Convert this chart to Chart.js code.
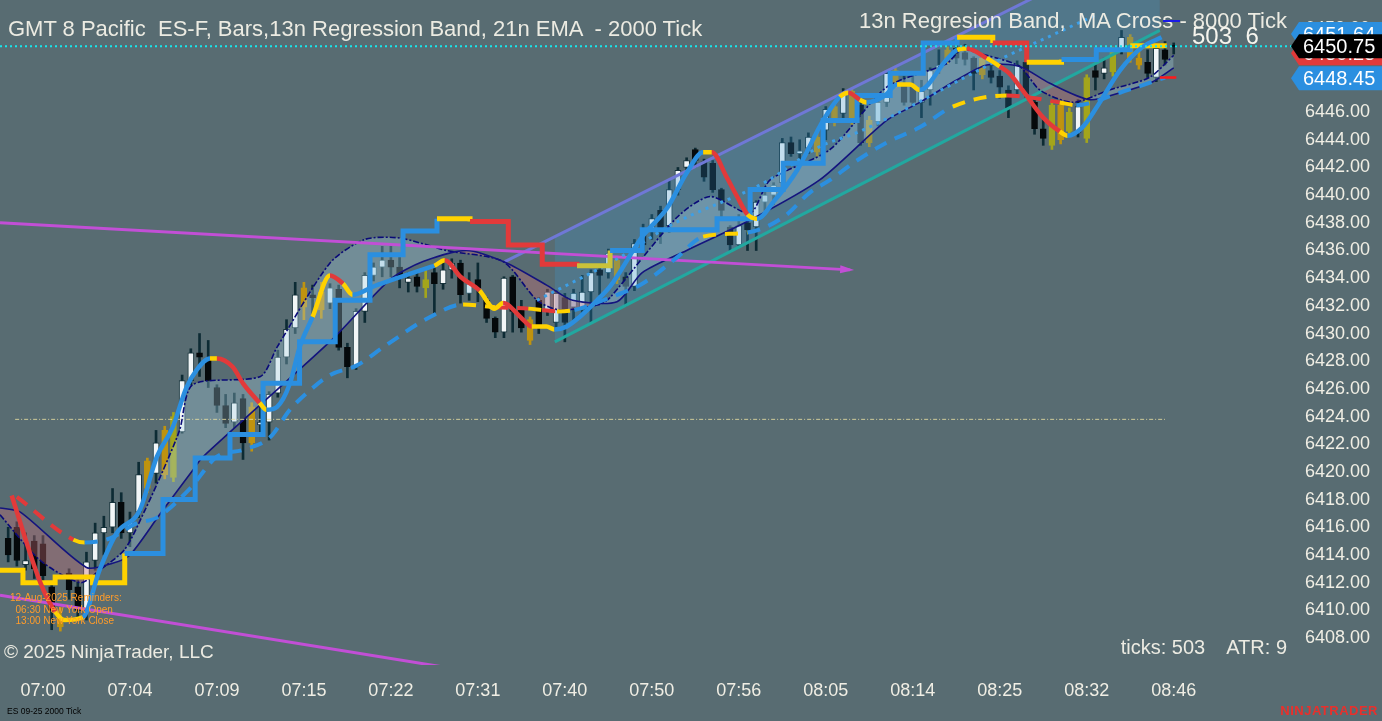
<!DOCTYPE html>
<html>
<head>
<meta charset="UTF-8">
<title>ES-F 2000 Tick</title>
<script src="https://cdn.jsdelivr.net/npm/chart.js"></script>
<style>
	body { margin: 0; background: #586c72; overflow: hidden; }
	#wrap { position: relative; width: 1382px; height: 721px; font-family: "Liberation Sans", Arial, sans-serif; color: #ecebe2; }
	#chart { position: absolute; left: 0; top: 0; }
	.t { position: absolute; white-space: pre; pointer-events: none; }
</style>
</head>
<body>
<div id="wrap">
	<canvas id="chart" width="1382" height="721"></canvas>

	<!-- 헤더 / 주석 텍스트 -->
	<div class="t" style="left:8px;top:16px;font-size:22px;">GMT 8 Pacific  ES-F, Bars,13n Regression Band, 21n EMA  - 2000 Tick</div>
	<div class="t" style="right:95px;top:8px;font-size:22px;">13n Regresion Band,  MA Cross - 8000 Tick</div>
	<div class="t" style="left:1163px;top:20px;width:17px;height:2px;background:#1a1ae6;"></div>
	<div class="t" style="left:1192px;top:22px;font-size:24px;color:#f6f5ee;">503  6</div>
	<div class="t" style="left:10px;top:592px;font-size:10px;line-height:11.5px;color:#ff9c2a;">12-Aug-2025 Reminders:
  06:30 New York Open
  13:00 New York Close</div>
	<div class="t" style="left:4px;top:641px;font-size:19px;">© 2025 NinjaTrader, LLC</div>
	<div class="t" style="right:95px;top:636px;font-size:20px;">ticks: 503    ATR: 9</div>
	<div class="t" style="left:7px;top:706px;font-size:8.5px;color:#000;">ES 09-25 2000 Tick</div>
	<div class="t" style="right:4px;top:703px;font-size:13px;font-weight:bold;color:#e8302c;letter-spacing:0.5px;">NINJATRADER</div>
</div>

<script>
	// ---- 캔들 데이터 (bar index 0..134) ----
	const opens = [6415.2,6416.0,6413.3,6415.0,6414.8,6411.7,6409.5,6412.7,6411.7,6410.0,
		6413.6,6415.6,6416.0,6417.8,6415.6,6417.1,6418.8,6419.9,6419.8,6419.6,
		6422.9,6426.6,6428.6,6428.1,6426.1,6424.8,6423.6,6425.3,6422.1,6423.4,
		6423.6,6425.7,6428.3,6430.4,6431.9,6432.8,6431.7,6432.2,6433.2,6429.0,
		6427.6,6431.6,6434.2,6434.8,6435.3,6434.8,6433.7,6434.1,6433.3,6434.4,
		6433.6,6434.6,6435.1,6432.9,6433.9,6432.4,6431.1,6430.1,6434.1,6431.7,
		6431.0,6432.4,6431.6,6430.8,6432.6,6431.9,6431.7,6433.0,6434.6,6434.4,
		6433.9,6434.1,6433.4,6437.5,6437.5,6438.9,6437.8,6440.4,6442.0,6443.3,
		6442.4,6442.3,6440.4,6437.7,6436.4,6438.0,6437.7,6439.5,6440.0,6440.9,
		6443.8,6443.0,6443.4,6443.1,6444.7,6445.3,6445.9,6445.4,6446.5,6443.8,
		6445.3,6446.7,6448.1,6448.0,6447.8,6446.7,6447.6,6449.2,6449.8,6450.6,
		6450.3,6449.9,6448.7,6449.0,6448.6,6447.6,6447.6,6449.6,6446.7,6444.8,
		6443.6,6446.5,6444.6,6444.5,6444.1,6448.5,6449.2,6448.9,6450.5,6451.4,
		6449.9,6449.6,6448.5,6450.5,6450.8];
	const highs = [6416.0,6416.4,6415.6,6415.4,6415.4,6412.0,6410.2,6413.0,6412.2,6414.2,
		6416.3,6416.8,6418.8,6418.5,6417.1,6420.7,6421.0,6423.0,6423.3,6424.3,
		6427.0,6428.9,6430.0,6429.5,6426.3,6425.6,6425.7,6425.6,6425.0,6425.6,
		6425.8,6428.8,6431.0,6433.7,6433.7,6433.5,6433.7,6433.6,6433.5,6429.3,
		6431.8,6434.4,6435.1,6436.3,6436.3,6435.5,6434.4,6434.5,6434.6,6434.8,
		6435.3,6435.4,6435.3,6434.4,6435.1,6432.6,6431.2,6434.1,6434.2,6432.4,
		6431.2,6432.6,6433.2,6433.1,6432.9,6433.2,6434.2,6434.6,6434.7,6436.1,
		6435.6,6434.4,6436.8,6437.9,6438.6,6439.2,6441.1,6442.0,6442.7,6443.4,
		6442.6,6442.5,6440.5,6437.8,6438.6,6438.2,6439.6,6440.3,6440.9,6444.1,
		6444.2,6444.0,6444.5,6444.5,6446.4,6446.6,6447.7,6447.7,6446.7,6445.7,
		6447.0,6448.9,6449.2,6448.6,6448.9,6448.3,6449.2,6450.5,6450.7,6450.9,
		6450.9,6450.0,6450.1,6449.4,6449.0,6447.9,6449.7,6449.8,6447.0,6445.5,
		6446.8,6446.8,6446.3,6446.9,6448.7,6449.4,6449.9,6450.7,6451.9,6451.6,
		6450.6,6450.5,6450.8,6451.1,6451.0];
	const lows = [6413.5,6413.2,6412.9,6412.3,6412.0,6408.6,6408.5,6410.8,6409.5,6409.3,
		6412.9,6414.0,6415.6,6415.2,6414.6,6416.7,6418.5,6419.2,6419.5,6419.3,
		6422.8,6426.3,6426.9,6426.1,6424.3,6423.2,6423.2,6420.9,6421.5,6422.8,
		6422.3,6425.4,6427.8,6430.0,6431.0,6431.1,6431.1,6431.8,6428.8,6426.8,
		6427.4,6430.8,6433.8,6434.1,6434.1,6433.3,6433.0,6433.0,6432.6,6431.5,
		6433.2,6434.0,6432.2,6432.4,6432.3,6430.8,6429.7,6429.7,6430.1,6430.1,
		6429.2,6430.0,6431.3,6430.3,6429.4,6431.0,6431.5,6430.8,6432.8,6434.0,
		6433.6,6432.0,6433.1,6436.0,6436.8,6436.5,6437.3,6440.0,6441.6,6442.0,
		6441.0,6440.2,6438.4,6435.9,6436.3,6436.0,6436.0,6438.9,6439.3,6440.6,
		6442.8,6442.2,6443.0,6442.8,6444.0,6445.0,6445.6,6445.1,6443.6,6443.5,
		6445.0,6446.4,6447.8,6446.5,6446.4,6445.6,6446.5,6448.8,6449.5,6449.5,
		6449.4,6447.6,6448.4,6448.1,6447.0,6445.6,6447.3,6447.0,6444.4,6443.6,
		6443.3,6443.7,6444.3,6444.2,6443.8,6447.6,6448.4,6448.6,6450.2,6449.6,
		6449.1,6448.5,6448.2,6449.4,6450.2];
	const closes = [6414.0,6413.6,6413.6,6413.0,6412.5,6410.0,6408.8,6411.5,6410.0,6413.5,
		6415.6,6416.0,6417.8,6415.6,6416.4,6419.8,6420.8,6422.1,6423.0,6424.0,
		6426.6,6428.6,6428.3,6426.6,6424.8,6423.5,6425.0,6422.1,6424.7,6423.6,
		6425.6,6428.3,6430.3,6432.8,6433.3,6432.6,6433.0,6433.3,6429.0,6427.6,
		6431.6,6434.2,6434.8,6435.3,6434.8,6434.1,6434.0,6433.4,6433.9,6433.6,
		6434.6,6435.1,6432.8,6433.6,6433.3,6431.1,6430.1,6434.0,6431.6,6430.4,
		6429.5,6430.5,6433.0,6432.9,6430.8,6432.9,6433.0,6434.4,6434.2,6435.8,
		6435.3,6433.4,6436.5,6436.4,6438.3,6437.5,6440.4,6441.8,6442.5,6442.5,
		6441.3,6440.4,6438.9,6436.4,6437.8,6437.5,6439.5,6440.0,6440.7,6443.8,
		6443.0,6443.2,6444.2,6444.2,6446.2,6446.4,6447.4,6447.5,6443.8,6445.4,
		6446.7,6448.8,6449.0,6446.7,6446.7,6447.5,6449.0,6449.4,6450.5,6449.9,
		6449.8,6448.8,6449.9,6448.5,6447.8,6446.3,6449.4,6447.3,6444.8,6444.1,
		6446.5,6444.0,6446.0,6446.4,6448.5,6449.0,6448.8,6450.5,6451.4,6449.9,
		6449.4,6448.8,6450.6,6449.8,6450.75];
	// 캔들 종류: u=상승(흰색) d=하락(검정) g=금색 o=올리브 l=하늘색
	const kinds = ('ddudddgddu' + 'uuuduugugo' + 'uuddddudgu' + 'uuuugdgldd' + 'uullddudod' +
		'uudldddudd' + 'gdludluudl' + 'gdududuuud' + 'ddddudullu' + 'dlugugugdg' +
		'lugdduulgd' + 'ddgddduddd' + 'ogouoduoug' + 'gdudd').split('');

	// ---- 축 라벨 ----
	const tickIdx = [4, 14, 24, 34, 44, 54, 64, 74, 84, 94, 104, 114, 124, 134];
	const timeLabels = ['07:00','07:04','07:09','07:15','07:22','07:31','07:40','07:50','07:56','08:05','08:14','08:25','08:32','08:46'];
	const yTicks = [6408,6410,6412,6414,6416,6418,6420,6422,6424,6426,6428,6430,6432,6434,6436,6438,6440,6442,6444,6446,6448,6450,6452];

	// ---- 지표 라인 [bar index, price, 상태] ----
	const fastMa = [[0.4,6418.3,'R'],[3.7,6412.0,'R'],[5.4,6409.9,'Y'],[6.5,6409.3,'Y'],[8.6,6409.5,'B'],[10.5,6412.9,'B'],
		[12.5,6415.6,'B'],[15.1,6417.2,'B'],[17.1,6421.1,'B'],[18.9,6423.2,'B'],[20.5,6426.1,'B'],[21.7,6427.4,'B'],
		[23.2,6428.2,'Y'],[24.0,6428.2,'R'],[25.8,6427.6,'R'],[27.0,6426.4,'R'],[28.9,6425.0,'Y'],[29.7,6424.5,'B'],
		[30.9,6424.7,'B'],[32.4,6426.4,'B'],[33.5,6429.0,'B'],[35.0,6431.2,'Y'],[37.0,6434.2,'R'],[38.5,6433.6,'Y'],
		[39.6,6432.8,'B'],[42.0,6433.4,'B'],[44.7,6434.0,'B'],[48.5,6434.8,'B'],[49.0,6434.9,'Y'],[50.2,6435.3,'R'],
		[52.0,6434.1,'R'],[54.2,6433.1,'Y'],[55.9,6431.8,'Y'],[56.9,6432.2,'R'],[59.2,6431.0,'R'],[60.2,6430.5,'Y'],
		[61.9,6430.5,'Y'],[62.8,6430.3,'B'],[64.2,6430.5,'B'],[65.7,6431.2,'B'],[67.7,6432.4,'B'],[69.2,6433.4,'B'],
		[72.9,6437.0,'B'],[75.8,6439.1,'B'],[78.0,6441.6,'B'],[79.9,6443.1,'Y'],[80.9,6443.1,'R'],[82.6,6441.3,'R'],
		[83.8,6439.9,'R'],[85.0,6438.6,'Y'],[86.1,6438.3,'B'],[88.1,6439.6,'B'],[90.7,6441.8,'B'],[93.7,6445.4,'B'],
		[95.6,6447.1,'Y'],[96.6,6447.4,'R'],[97.9,6446.9,'Y'],[98.7,6446.7,'B'],[100.8,6447.2,'B'],[102.2,6448.0,'Y'],
		[103.7,6448.0,'Y'],[104.8,6447.6,'B'],[107.9,6449.8,'B'],[109.1,6450.5,'Y'],[110.2,6450.6,'R'],[112.5,6449.9,'Y'],
		[114.0,6449.3,'R'],[115.1,6448.8,'R'],[116.6,6447.6,'R'],[119.0,6445.6,'R'],[120.9,6444.6,'Y'],[121.8,6444.3,'B'],
		[123.5,6444.9,'B'],[125.2,6446.4,'B'],[127.8,6449.0,'B'],[130.4,6450.7,'B'],[132.6,6451.4,'B']];
	const slowMa = [[1.0,6418.2,'R'],[7.5,6415.1,'Y'],[8.8,6414.9,'B'],[11.7,6415.2,'B'],[14.8,6416.3,'B'],[17.1,6416.7,'B'],
		[20.9,6418.8,'B'],[24.0,6421.1,'B'],[27.0,6421.6,'B'],[30.1,6422.5,'B'],[32.4,6424.5,'B'],[34.7,6425.9,'B'],
		[37.0,6427.0,'B'],[40.1,6427.7,'B'],[43.1,6429.0,'B'],[48.5,6431.2,'B'],[52.3,6432.1,'Y'],[56.0,6431.9,'R'],
		[59.8,6431.8,'Y'],[61.4,6431.7,'R'],[63.1,6431.6,'Y'],[65.1,6431.7,'B'],[69.2,6432.6,'B'],[72.9,6433.6,'B'],
		[76.9,6435.5,'B'],[79.9,6437.0,'Y'],[85.0,6437.3,'B'],[89.1,6438.4,'B'],[92.2,6440.2,'B'],[94.5,6441.1,'B'],
		[97.1,6442.3,'B'],[101.0,6443.8,'B'],[104.8,6444.9,'B'],[108.6,6446.4,'Y'],[114.8,6447.2,'R'],[120.9,6446.7,'Y'],
		[122.8,6446.5,'B'],[127.8,6447.4,'B'],[133.0,6448.5,'B']];
	const trailStop = [[-0.94,6412.9,'Y'],[1.7,6412.0,'Y'],[5.4,6412.4,'Y'],[9.7,6412.0,'Y'],[13.4,6414.1,'B'],[17.8,6418.0,'B'],
		[21.5,6421.0,'B'],[25.5,6422.7,'B'],[29.3,6426.4,'B'],[33.5,6429.4,'B'],[37.6,6432.4,'B'],[41.6,6435.7,'B'],
		[45.4,6437.4,'B'],[49.3,6438.3,'Y'],[53.1,6438.1,'R'],[57.5,6436.4,'R'],[61.4,6435.0,'R'],[65.4,6434.9,'O'],
		[69.2,6436.0,'B'],[72.9,6437.5,'B'],[81.5,6438.3,'B'],[85.3,6440.4,'B'],[89.1,6442.3,'B'],[93.7,6445.4,'B'],
		[97.6,6447.2,'B'],[101.4,6448.8,'B'],[105.2,6451.0,'B'],[109.1,6451.4,'Y'],[113.2,6451.0,'R'],[117.1,6449.6,'Y'],
		[121.1,6449.8,'B'],[125.1,6450.5,'B'],[129.0,6450.8,'Y'],[133.2,6450.8,'Y']];
	const bandUpper = [[-0.94,6416.9],[3.7,6413.6],[8.3,6412.0],[10.5,6412.9],[13.4,6414.4],[15.7,6417.2],[17.8,6420.1],
		[19.7,6423.0],[21.2,6426.3],[29.0,6426.9],[30.9,6429.0],[37.0,6435.1],[41.0,6436.8],[45.0,6436.9],[50.4,6436.0],
		[56.9,6435.2],[60.8,6432.4],[63.4,6431.7],[68.0,6432.1],[69.2,6432.6],[76.9,6438.4],[80.7,6439.9],[85.3,6438.7],
		[87.6,6441.1],[94.5,6443.3],[101.0,6447.8],[107.9,6449.5],[109.6,6450.5],[112.5,6450.1],[116.3,6449.3],
		[118.6,6447.6],[122.4,6446.7],[126.6,6447.6],[131.2,6448.5],[134.0,6450.1]];
	const bandLower = [[-0.94,6417.4],[1.4,6417.1],[9.0,6413.1],[12.0,6413.4],[14.0,6414.0],[17.5,6417.0],[21.2,6420.1],
		[22.4,6421.1],[37.3,6429.6],[43.9,6433.9],[47.7,6435.2],[52.7,6436.0],[57.3,6435.1],[61.9,6433.5],[64.9,6432.4],
		[70.0,6432.3],[72.9,6434.4],[78.0,6436.0],[85.3,6438.2],[93.3,6441.1],[101.0,6445.4],[104.8,6446.7],[109.0,6448.3],
		[112.5,6449.4],[116.3,6449.3],[119.7,6448.1],[124.3,6446.9],[127.8,6447.4],[131.6,6448.2],[134.0,6449.2]];
	const dottedMa = [[60.8,6432.4],[70.3,6435.5],[76.1,6437.8],[87.2,6441.0],[93.3,6443.5],[97.9,6444.6],[114.0,6449.8],[121.2,6451.9],[125.0,6453.0]];
	const channelTop = [[57.1,6435.2],[133.0,6459.0]];
	const channelBottom = [[62.85,6429.4],[132.4,6451.9]];
	const magentaTop = [[-0.94,6438.0],[96.8,6434.6]];
	const magentaBottom = [[-0.94,6411.1],[55.0,6405.4]];
	const midLine = [[0.8,6423.8],[133.0,6423.8]];
	const lastLine = [[-0.94,6450.75],[147.6,6450.75]];
	const redMark = [[132.4,6448.5],[134.3,6448.5]];

	// 오른쪽 가격 박스 [가격, 표시 텍스트]
	const priceMarks = [[6451.64,'6451.64'],[6450.25,'6450.25'],[6450.75,'6450.75'],[6448.45,'6448.45']];

	// ---- 스타일 ----
	const bodyFill = {u:'#f2f6f7', d:'#05090b', g:'#bf930f', o:'#a3a51c', l:'#cfe4ef'};
	const bodyEdge = {u:'#16323b', d:'#05090b', g:'#bf930f', o:'#a3a51c', l:'#3d6675'};
	const wickCol  = {u:'#0d2b34', d:'#0d2b34', g:'#bf930f', o:'#a3a51c', l:'#0d2b34'};
	const stateCol = {B:'#2b8fe0', Y:'#ffd200', R:'#e23a3a', O:'#c9c23a'};
	const markCol = ['#2b8fe0', '#e23a3a', '#000000', '#2b8fe0'];
	const FONT = '"Liberation Sans", Arial, sans-serif';

	function pts(list) { return list.map(p => ({x: p[0], y: p[1]})); }
	function line(list, extra) {
		return Object.assign({type: 'line', data: pts(list), pointRadius: 0, borderWidth: 1, fill: false, tension: 0}, extra);
	}

	const wickData = highs.map((h, i) => ({x: i, y: [lows[i], h]}));
	const bodyData = opens.map((o, i) => ({x: i, y: [o, closes[i]]}));

	// 축 라벨 때문에 생기는 여백 제거 (차트 영역을 캔버스 끝까지)
	function noPad(s) { s.paddingTop = 0; s.paddingBottom = 0; s.paddingLeft = 0; s.paddingRight = 0; }

	// 화살표, 가격 박스
	const overlayPlugin = {
		id: 'overlay',
		afterDatasetsDraw(chart) {
			const {ctx, scales: {x, y}} = chart;
			const a = magentaTop[0], b = magentaTop[1];
			const x0 = x.getPixelForValue(a[0]), y0 = y.getPixelForValue(a[1]);
			const x1 = x.getPixelForValue(b[0]), y1 = y.getPixelForValue(b[1]);
			const ang = Math.atan2(y1 - y0, x1 - x0);
			ctx.save();
			ctx.fillStyle = '#c24fd6';
			ctx.beginPath();
			ctx.moveTo(x1 + 4 * Math.cos(ang), y1 + 4 * Math.sin(ang));
			ctx.lineTo(x1 - 10 * Math.cos(ang) - 4 * Math.sin(ang), y1 - 10 * Math.sin(ang) + 4 * Math.cos(ang));
			ctx.lineTo(x1 - 10 * Math.cos(ang) + 4 * Math.sin(ang), y1 - 10 * Math.sin(ang) - 4 * Math.cos(ang));
			ctx.closePath();
			ctx.fill();
			ctx.restore();
		},
		afterDraw(chart) {
			const {ctx, scales: {y}, chartArea} = chart;
			const tip = chartArea.right - 1, left = tip + 8, right = chart.width, h = 12;
			ctx.save();
			priceMarks.forEach((m, k) => {
				const py = y.getPixelForValue(m[0]);
				ctx.fillStyle = markCol[k];
				ctx.beginPath();
				ctx.moveTo(tip, py);
				ctx.lineTo(left, py - h);
				ctx.lineTo(right, py - h);
				ctx.lineTo(right, py + h);
				ctx.lineTo(left, py + h);
				ctx.closePath();
				ctx.fill();
				ctx.fillStyle = '#ffffff';
				ctx.font = '20px ' + FONT;
				ctx.textBaseline = 'middle';
				ctx.fillText(m[1], left + 4, py + 1);
			});
			ctx.restore();
		}
	};

	const ctx = document.getElementById('chart').getContext('2d');
	const chart = new Chart(ctx, {
		type: 'bar',
		data: {
			datasets: [
				// 캔들 몸통 / 꼬리
				{type: 'bar', data: bodyData, order: 29, grouped: false, barThickness: 6, minBarLength: 1,
					backgroundColor: kinds.map(k => bodyFill[k]), borderColor: kinds.map(k => bodyEdge[k]),
					borderWidth: 1, borderSkipped: false},
				{type: 'bar', data: wickData, order: 30, grouped: false, barThickness: 2,
					backgroundColor: kinds.map(k => wickCol[k]), borderWidth: 0},
				// 회귀 채널
				line(channelTop, {order: 20, borderColor: '#6f78d6', borderWidth: 3,
					fill: {target: '+1', above: 'rgba(60,150,210,0.25)', below: 'rgba(60,150,210,0.25)'}}),
				line(channelBottom, {order: 19, borderColor: '#22a8a0', borderWidth: 3}),
				// 13n 회귀 밴드
				line(bandUpper, {order: 18, borderColor: '#0a0a78', borderWidth: 1.6, borderDash: [6, 2, 2, 2], tension: 0.25,
					fill: {target: '+1', above: 'rgba(170,210,230,0.32)', below: 'rgba(205,110,120,0.36)'}}),
				line(bandLower, {order: 17, borderColor: '#14147e', borderWidth: 1.6, tension: 0.25}),
				// 추세선
				line(magentaTop, {order: 12, borderColor: '#c24fd6', borderWidth: 3}),
				line(magentaBottom, {order: 12, borderColor: '#c24fd6', borderWidth: 3}),
				line(midLine, {order: 11, borderColor: 'rgba(228,220,160,0.85)', borderWidth: 1, borderDash: [4, 2, 1, 2]}),
				line(dottedMa, {order: 10, borderColor: '#3d9fe6', borderWidth: 3, borderDash: [3, 5], cubicInterpolationMode: 'monotone'}),
				// 이동평균 (느린선 / 빠른선)
				line(slowMa, {order: 8, borderWidth: 4, borderDash: [13, 9], cubicInterpolationMode: 'monotone',
					borderColor: stateCol.B, segment: {borderColor: c => stateCol[slowMa[c.p0DataIndex][2]]}}),
				line(trailStop, {order: 7, borderWidth: 5, stepped: 'before', borderColor: stateCol.B,
					segment: {borderColor: c => stateCol[trailStop[c.p0DataIndex][2]]}}),
				line(fastMa, {order: 6, borderWidth: 4.5, cubicInterpolationMode: 'monotone', borderColor: stateCol.B,
					segment: {borderColor: c => stateCol[fastMa[c.p0DataIndex][2]]}}),
				line(lastLine, {order: 5, borderColor: '#16e6ee', borderWidth: 2, borderDash: [2, 3]}),
				line(redMark, {order: 4, borderColor: '#ff1a1a', borderWidth: 2.5})
			]
		},
		options: {
			responsive: false,
			animation: false,
			events: [],
			layout: {padding: 0},
			plugins: {legend: {display: false}, tooltip: {enabled: false}},
			scales: {
				x: {
					type: 'linear',
					min: -0.94,
					max: 147.6,
					offset: false,
					grid: {display: false, drawTicks: false},
					border: {display: false},
					afterBuildTicks: s => { s.ticks = tickIdx.map(v => ({value: v})); },
					afterFit: s => { s.height = 56; noPad(s); },
					ticks: {
						autoSkip: false, maxRotation: 0, padding: 15,
						color: '#f0eee4', font: {size: 18, family: FONT},
						callback: v => timeLabels[tickIdx.indexOf(v)]
					}
				},
				y: {
					position: 'right',
					min: 6406.05,
					max: 6454.1,
					grid: {display: false, drawTicks: false},
					border: {display: false},
					afterBuildTicks: s => { s.ticks = yTicks.map(v => ({value: v})); },
					afterFit: s => { s.width = 90; noPad(s); },
					ticks: {
						padding: 13,
						color: '#f0eee4', font: {size: 18, family: FONT},
						callback: v => Number(v).toFixed(2)
					}
				}
			}
		},
		plugins: [overlayPlugin]
	});
</script>
</body>
</html>
